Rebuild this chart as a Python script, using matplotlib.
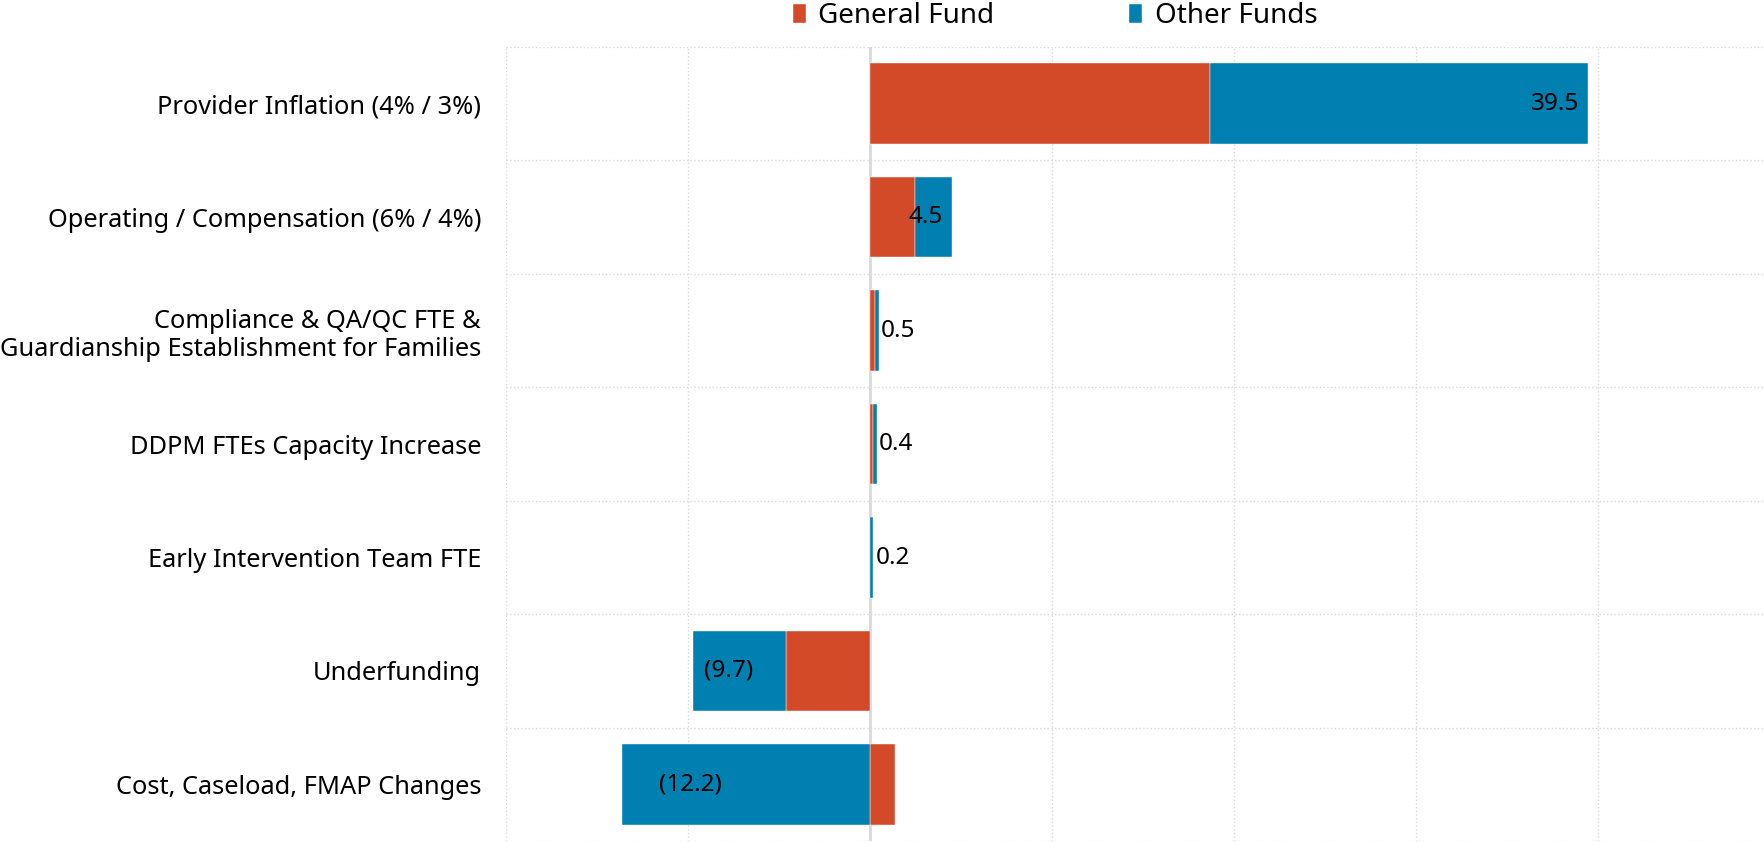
import matplotlib.pyplot as plt
import numpy as np

plt.rcParams['font.family'] = ['Noto Sans', 'DejaVu Sans']

# 資料
categories = [
    'Provider Inflation (4% / 3%)',
    'Operating / Compensation (6% / 4%)',
    'Compliance & QA/QC FTE &\nGuardianship Establishment for Families',
    'DDPM FTEs Capacity Increase',
    'Early Intervention Team FTE',
    'Underfunding',
    'Cost, Caseload, FMAP Changes',
]
general_fund = [18.7, 2.5, 0.3, 0.2, 0.0, -4.6, 1.4]
other_funds = [20.8, 2.0, 0.2, 0.2, 0.2, -5.1, -13.6]
totals = [39.5, 4.5, 0.5, 0.4, 0.2, -9.7, -12.2]

gf_color = '#D34A28'
of_color = '#007FB1'
grid_color = '#D9D9D9'

fig = plt.figure(figsize=(17.64, 8.42), dpi=100)
ax = fig.add_axes([506 / 1764, 0.001, 1 - 506 / 1764, 1 - 47 / 842 - 0.001])

y = np.arange(len(categories))
gf = np.array(general_fund)
of = np.array(other_funds)
# 同號時疊在 GF 上，異號時從 0 開始
of_left = np.where(np.sign(gf) == np.sign(of), gf, 0.0)

ax.barh(y, gf, height=0.71, color=gf_color, edgecolor='white', linewidth=0.3, zorder=3, label='General Fund')
ax.barh(y, of, left=of_left, height=0.71, color=of_color, edgecolor='white', linewidth=0.3, zorder=3, label='Other Funds')

# 數值標籤
def fmt(v):
    return f'({abs(v):.1f})' if v < 0 else f'{v:.1f}'

for i, t in enumerate(totals):
    if t >= 3:
        ax.text(t - 0.5, i, fmt(t), ha='right', va='center', fontsize=17.5, color='black', zorder=4)
    elif t >= 0:
        ax.text(t + 0.1, i, fmt(t), ha='left', va='center', fontsize=17.5, color='black', zorder=4)
    else:
        ax.text(t + 0.6, i, fmt(t), ha='left', va='center', fontsize=17.5, color='black', zorder=4)

ax.set_xlim(-20, 49.15)
ax.set_ylim(len(categories) - 0.5, -0.5)

# 格線
for x in range(-20, 50, 10):
    if x == 0:
        ax.axvline(0, color=grid_color, lw=2, zorder=2)
    else:
        ax.axvline(x, color=grid_color, lw=1, ls=':', zorder=1)
for b in np.arange(-0.5, len(categories), 1.0):
    ax.axhline(b, color=grid_color, lw=1, ls=':', zorder=1)

ax.set_yticks(y)
ax.set_yticklabels(categories, fontsize=18.3, color='black')
ax.tick_params(axis='y', length=0, pad=18)
ax.set_xticks([])
for s in ax.spines.values():
    s.set_visible(False)

fig.legend(loc='center', bbox_to_anchor=(0.598, 0.981), ncol=2, frameon=False,
           fontsize=20, handlelength=0.47, handleheight=0.65, handletextpad=0.45,
           columnspacing=4.85)

plt.savefig('out.png', dpi=100)
